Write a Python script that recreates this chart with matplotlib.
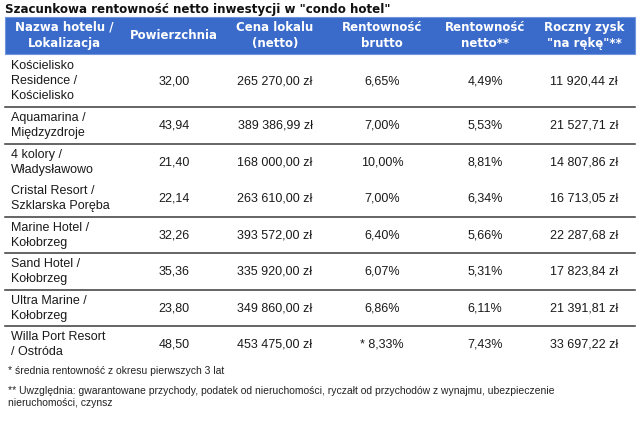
import matplotlib
matplotlib.use("Agg")
import matplotlib.pyplot as plt
from matplotlib.patches import Rectangle

title = 'Szacunkowa rentowność netto inwestycji w "condo hotel"'
headers = ["Nazwa hotelu /\nLokalizacja", "Powierzchnia", "Cena lokalu\n(netto)",
           "Rentowność\nbrutto", "Rentowność\nnetto**", "Roczny zysk\n\"na rękę\"**"]

hotels = ["Kościelisko\nResidence /\nKościelisko", "Aquamarina /\nMiędzyzdroje",
          "4 kolory /\nWładysławowo", "Cristal Resort /\nSzklarska Poręba",
          "Marine Hotel /\nKołobrzeg", "Sand Hotel /\nKołobrzeg",
          "Ultra Marine /\nKołobrzeg", "Willa Port Resort\n/ Ostróda"]
area = [32.00, 43.94, 21.40, 22.14, 32.26, 35.36, 23.80, 48.50]
price = [265270.00, 389386.99, 168000.00, 263610.00, 393572.00, 335920.00, 349860.00, 453475.00]
gross = [6.65, 7.00, 10.00, 7.00, 6.40, 6.07, 6.86, 8.33]
gross_mark = ["", "", "", "", "", "", "", "* "]
net = [4.49, 5.53, 8.81, 6.34, 5.66, 5.31, 6.11, 7.43]
profit = [11920.44, 21527.71, 14807.86, 16713.05, 22287.68, 17823.84, 21391.81, 33697.22]

notes = ["* średnia rentowność z okresu pierwszych 3 lat",
         "** Uwzględnia: gwarantowane przychody, podatek od nieruchomości, ryczałt od przychodów z wynajmu, ubezpieczenie\nnieruchomości, czynsz"]

# no line under "4 kolory" in the original
row_line = [True, True, False, True, True, True, True, False]


def pl(v):
    return f"{v:,.2f}".replace(",", " ").replace(".", ",")


fig = plt.figure(figsize=(6.4, 4.46), dpi=100)
ax = fig.add_axes([0, 0, 1, 1])
ax.set_xlim(0, 640)
ax.set_ylim(446, 0)
ax.axis("off")

body = dict(family="Liberation Sans", fontsize=9, color="#1a1a1a")
bold = dict(family="DejaVu Sans", fontweight="bold")

ax.text(5, 10, title, fontsize=8.6, va="center", ha="left", color="#111111", **bold)

left, right = 5, 635
ax.add_patch(Rectangle((left, 17), right - left, 37, facecolor="#3A6BCB",
                       edgecolor="#6F96DC", lw=0.8))
col_x = [64, 174, 275, 382, 485, 584]
for x, h in zip(col_x, headers):
    ax.text(x, 35.5, h, ha="center", va="center", color="white", fontsize=8.5,
            linespacing=1.35, **bold)

y = 54
for i in range(len(hotels)):
    h = 53 if hotels[i].count("\n") == 2 else 36.5
    yc = y + h / 2 + 0.5
    ax.text(11, yc, hotels[i], ha="left", va="center", linespacing=1.38, **body)
    cells = [pl(area[i]), pl(price[i]) + " zł", gross_mark[i] + pl(gross[i]) + "%",
             pl(net[i]) + "%", pl(profit[i]) + " zł"]
    for x, c in zip(col_x[1:], cells):
        ax.text(x, yc, c, ha="center", va="center", **body)
    y += h
    if row_line[i]:
        ax.plot([left, right], [y, y], color="#3a3a3a", lw=1.1)

ax.text(8, 371, notes[0], ha="left", va="center", family="Liberation Sans",
        fontsize=7.5, color="#222222")
ax.text(8, 386, notes[1], ha="left", va="top", family="Liberation Sans",
        fontsize=7.5, color="#222222", linespacing=1.3)

fig.savefig("out.png", dpi=100)
